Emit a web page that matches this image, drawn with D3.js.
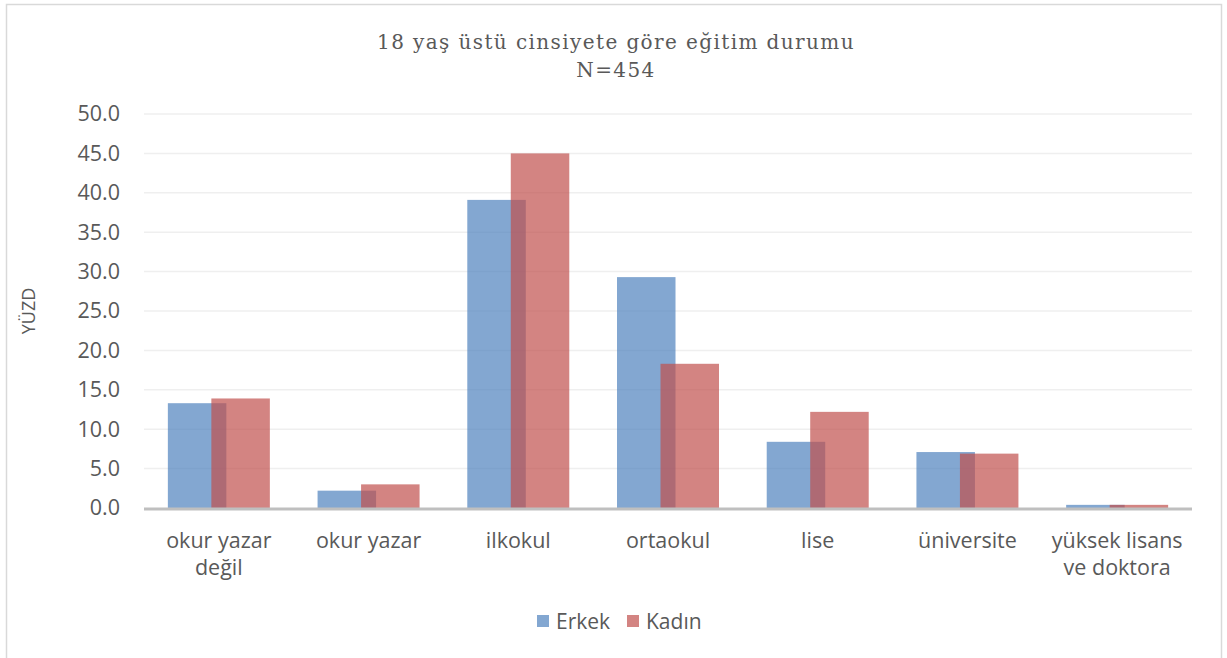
<!DOCTYPE html>
<html>
<head>
<meta charset="utf-8">
<script src="https://cdn.jsdelivr.net/npm/d3@7"></script>
<style>
  body { margin: 0; background: #fff; }
  svg text { font-family: "Open Sans", "Noto Sans", sans-serif; fill: #595959; }
</style>
</head>
<body>
<div id="chart"></div>
<script>
// data
const categories = ["okur yazar değil", "okur yazar", "ilkokul", "ortaokul", "lise", "üniversite", "yüksek lisans ve doktora"];
const labelLines = [["okur yazar", "değil"], ["okur yazar"], ["ilkokul"], ["ortaokul"], ["lise"], ["üniversite"], ["yüksek lisans", "ve doktora"]];
const erkek = [13.3, 2.2, 39.1, 29.3, 8.4, 7.1, 0.4];
const kadin = [13.9, 3.0, 45.0, 18.3, 12.2, 6.9, 0.4];
const yTicks = [0, 5, 10, 15, 20, 25, 30, 35, 40, 45, 50];
const seriesNames = ["Erkek", "Kadın"];
const colors = ["#4F81BD", "#C0504D"];

const W = 1227, H = 658;
const margin = { top: 114, right: 35, bottom: 150, left: 144 };
const width = W - margin.left - margin.right,
      height = H - margin.top - margin.bottom;

const root = d3.select("#chart").append("svg")
    .attr("width", W)
    .attr("height", H);

// outer frame
root.append("rect")
    .attr("x", 6.5).attr("y", 4.5)
    .attr("width", 1215).attr("height", 670)
    .attr("fill", "none")
    .attr("stroke", "#d9d9d9")
    .attr("stroke-width", 1.5);

// title
["18 yaş üstü cinsiyete göre eğitim durumu", "N=454"].forEach((t, i) => {
    root.append("text")
        .attr("x", 616).attr("y", 49 + i * 28)
        .attr("text-anchor", "middle")
        .style("font-family", "'DejaVu Serif', serif")
        .style("font-size", "20px")
        .style("letter-spacing", "1.4px")
        .text(t);
});

const svg = root.append("g")
    .attr("transform", `translate(${margin.left},${margin.top})`);

const x = d3.scaleBand()
    .domain(categories)
    .range([0, width]);

const y = d3.scaleLinear()
    .domain([0, 50])
    .range([height, 0]);

// gridlines
svg.append("g")
    .selectAll("line")
    .data(yTicks.slice(1))
    .join("line")
    .attr("x1", 0).attr("x2", width)
    .attr("y1", d => y(d)).attr("y2", d => y(d))
    .attr("stroke", "#efefef")
    .attr("stroke-width", 1.5);

// y axis labels
const yAxis = svg.append("g")
    .call(d3.axisLeft(y).tickValues(yTicks).tickFormat(d3.format(".1f")).tickSize(0).tickPadding(24));
yAxis.select(".domain").remove();
yAxis.selectAll("text")
    .style("font-size", "21.5px")
    .attr("fill", "#595959");

// y title
svg.append("text")
    .attr("transform", `translate(-109,${y(25)}) rotate(-90)`)
    .attr("text-anchor", "middle")
    .style("font-size", "18px")
    .text("YÜZD");

// bars
const barW = 58.5;
const offsets = [-51, -7.5];
const series = [erkek, kadin];

series.forEach((vals, si) => {
    svg.append("g")
        .selectAll("rect")
        .data(vals)
        .join("rect")
        .attr("x", (d, i) => x(categories[i]) + x.bandwidth() / 2 + offsets[si])
        .attr("y", d => y(d))
        .attr("width", barW)
        .attr("height", d => height - y(d))
        .attr("fill", colors[si])
        .attr("fill-opacity", 0.7);
});

// x axis line
svg.append("line")
    .attr("x1", 0).attr("x2", width)
    .attr("y1", height + 1).attr("y2", height + 1)
    .attr("stroke", "#bfbfbf")
    .attr("stroke-width", 3);

// x labels
const xl = svg.append("g")
    .selectAll("text")
    .data(categories)
    .join("text")
    .attr("x", d => x(d) + x.bandwidth() / 2)
    .attr("y", height + 40)
    .attr("text-anchor", "middle")
    .style("font-size", "21.5px");
xl.each(function (d, i) {
    const t = d3.select(this);
    labelLines[i].forEach((line, li) => {
        t.append("tspan")
            .attr("x", x(d) + x.bandwidth() / 2)
            .attr("dy", li === 0 ? 0 : 27)
            .text(line);
    });
});

// legend
const legend = root.append("g").attr("transform", "translate(537,621)");
const legendX = [0, 90];
seriesNames.forEach((name, i) => {
    legend.append("rect")
        .attr("x", legendX[i]).attr("y", -6)
        .attr("width", 12).attr("height", 12)
        .attr("fill", colors[i])
        .attr("fill-opacity", 0.7);
    legend.append("text")
        .attr("x", legendX[i] + 19).attr("y", 7.5)
        .style("font-size", "21px")
        .text(name);
});
</script>
</body>
</html>
